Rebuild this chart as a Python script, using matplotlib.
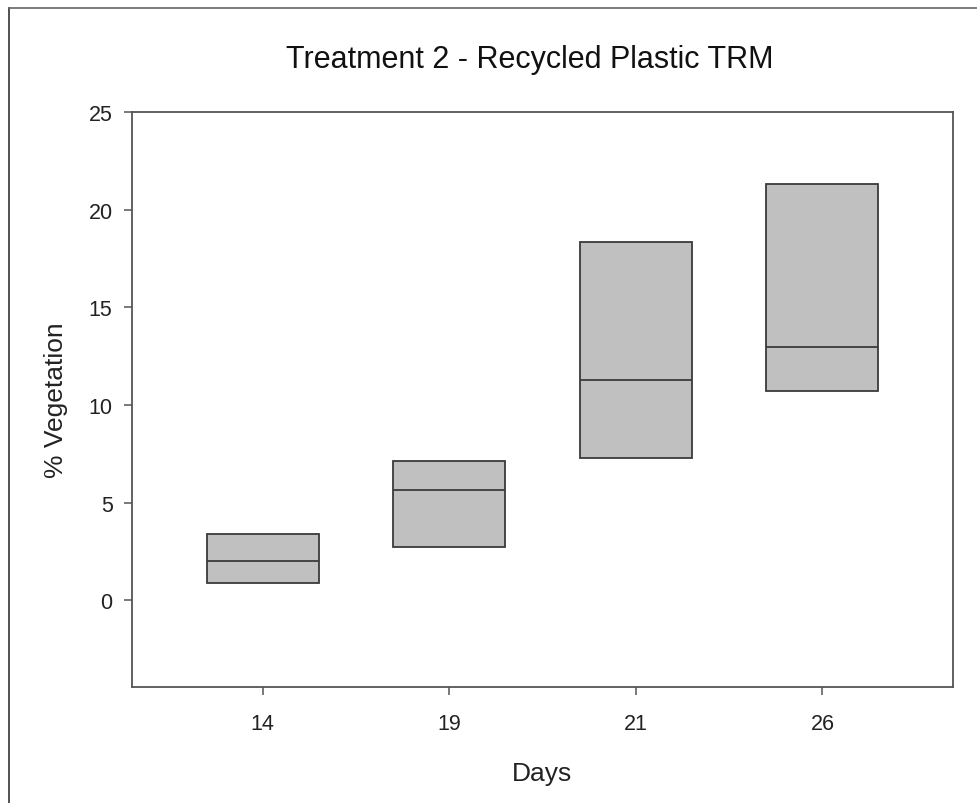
import matplotlib
matplotlib.use("Agg")
import matplotlib.pyplot as plt
from matplotlib.lines import Line2D

plt.rcParams['font.family'] = ['Liberation Sans', 'DejaVu Sans']

# data
days = ['14', '19', '21', '26']
q1 = [0.89, 2.72, 7.29, 10.73]
median = [2.0, 5.65, 11.27, 12.95]
q3 = [3.38, 7.15, 18.35, 21.3]

stats = []
for d, lo, m, hi in zip(days, q1, median, q3):
    stats.append({'label': d, 'q1': lo, 'med': m, 'q3': hi,
                  'whislo': lo, 'whishi': hi, 'fliers': []})

fig = plt.figure(figsize=(9.78, 8.04), dpi=100)
ax = fig.add_axes([132 / 978, 1 - 688 / 804, (953 - 132) / 978, (688 - 113) / 804])

ax.bxp(stats, positions=range(len(days)), widths=0.6, patch_artist=True,
       showcaps=False, showfliers=False,
       boxprops=dict(facecolor='#c0c0c0', edgecolor='#3a3a3a', linewidth=1.3),
       medianprops=dict(color='#3a3a3a', linewidth=1.3),
       whiskerprops=dict(linewidth=0))

ax.set_xlim(-0.7, 3.7)
ax.set_ylim(-4.43, 25)
ax.set_yticks([0, 5, 10, 15, 20, 25])
ax.set_xticks(range(len(days)))
ax.set_xticklabels(days)

for s in ax.spines.values():
    s.set_color('#555555')
    s.set_linewidth(1.3)
ax.tick_params(direction='out', length=6, width=1.1, color='#555555',
               labelsize=15.5, labelcolor='#222222', pad=8)
ax.tick_params(axis='x', pad=13)

fig.text(530 / 978, 1 - 60 / 804, 'Treatment 2 - Recycled Plastic TRM', fontsize=22,
         color='#111111', ha='center', va='center')
ax.set_xlabel('Days', fontsize=19, color='#222222', labelpad=19)
ax.set_ylabel('% Vegetation', fontsize=19, color='#222222', labelpad=15)

# screenshot frame on the top and left edges
fig.add_artist(Line2D([9 / 978, 9 / 978], [0, 1 - 9 / 804], transform=fig.transFigure,
                      color='#333333', linewidth=1.2))
fig.add_artist(Line2D([9 / 978, 1], [1 - 9 / 804, 1 - 9 / 804], transform=fig.transFigure,
                      color='#666666', linewidth=1.2))

fig.savefig('out.png', dpi=100)
